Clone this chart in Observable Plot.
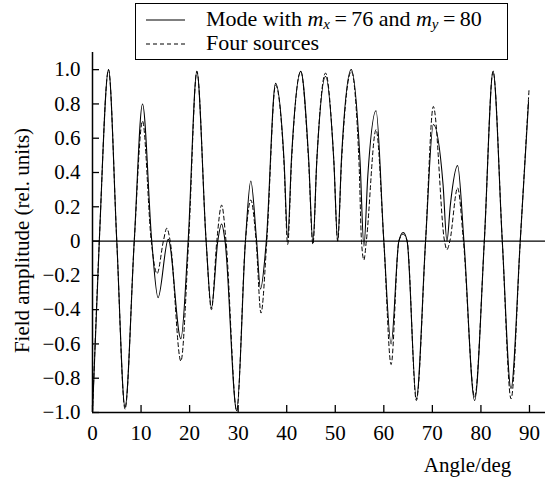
<!DOCTYPE html>
<html>
<head>
<meta charset="utf-8">
<script src="https://cdn.jsdelivr.net/npm/d3@7"></script>
<script src="https://cdn.jsdelivr.net/npm/@observablehq/plot@0.6"></script>
<style>
  html, body { margin: 0; padding: 0; background: #fff; }
  #wrap { position: relative; width: 545px; height: 477px; font-family: "Liberation Serif", "DejaVu Serif", serif; }
  #legend { position: absolute; left: 135px; top: 3px; width: 371px; height: 55px; border: 1.5px solid #000; background: #fff; }
  .row { position: absolute; left: 0; height: 22px; font-size: 22px; line-height: 22px; white-space: nowrap; color: #000; }
  .row > svg { position: absolute; left: 9px; top: 0; }
  .row > .txt { position: absolute; left: 70px; top: 0; }
  .eq { margin: 0 0.2em; }
  sub { font-size: 68%; vertical-align: -0.18em; line-height: 0; }
</style>
</head>
<body>
<div id="wrap">
  <div id="chart"></div>
  <div id="legend"></div>
</div>
<script>
// ---- data ----
const modeAngle = [0, 1.4, 3.3, 5.0, 6.7, 8.6, 10.3, 12.2, 13.5, 15.6, 18.2, 19.7, 21.5, 23.4, 24.5, 25.8, 26.6, 27.3, 29.7, 31.5, 32.6, 33.8, 34.6, 35.8, 37.7, 39.45, 40.2, 41.0, 42.9, 44.5, 45.4, 46.2, 48.0, 49.7, 50.5, 51.3, 53.3, 55.1, 55.9, 56.7, 58.4, 60.0, 61.5, 63.1, 64.0, 64.8, 66.7, 68.6, 70.2, 72.2, 73.0, 73.7, 75.2, 76.5, 78.7, 80.7, 82.5, 84.4, 86.2, 88.1, 89.8];
const modeValue = [-1.0, 0, 1.0, 0, -0.97, 0, 0.80, 0, -0.33, 0.01, -0.57, 0, 0.99, 0, -0.39, 0, 0.10, 0, -0.99, 0, 0.35, 0, -0.28, 0, 0.92, 0.47, 0.02, 0.49, 0.99, 0.49, -0.01, 0.47, 0.96, 0.47, 0.0, 0.49, 1.0, 0.47, -0.03, 0.38, 0.76, 0, -0.60, 0, 0.05, 0, -0.92, 0, 0.68, 0.33, 0.0, 0.21, 0.44, 0, -0.93, 0, 0.99, 0, -0.86, 0, 0.81];

const srcAngle = [0, 1.4, 3.3, 5.0, 6.7, 8.6, 10.3, 12.1, 13.3, 14.6, 15.3, 16.0, 18.2, 19.8, 21.5, 23.4, 24.5, 25.6, 26.6, 27.5, 29.7, 31.5, 32.6, 33.7, 34.7, 35.9, 37.7, 39.45, 40.2, 41.0, 42.9, 44.5, 45.4, 46.2, 48.0, 49.7, 50.5, 51.3, 53.3, 54.9, 55.4, 55.9, 56.4, 58.4, 60.0, 61.5, 63.1, 64.0, 64.8, 66.7, 68.6, 70.2, 72.5, 73.0, 73.6, 75.2, 76.4, 78.7, 80.7, 82.5, 84.4, 86.2, 88.1, 89.9];
const srcValue = [-1.0, 0, 1.0, 0, -0.98, 0, 0.70, 0, -0.19, 0, 0.075, 0, -0.70, 0, 0.99, 0, -0.40, 0, 0.21, 0, -0.99, 0, 0.24, 0, -0.42, 0, 0.91, 0.45, -0.02, 0.47, 0.99, 0.47, -0.02, 0.47, 0.98, 0.47, 0.0, 0.47, 0.99, 0.45, 0, -0.11, 0, 0.65, 0, -0.72, 0, 0.04, 0, -0.93, 0, 0.785, 0, -0.05, 0, 0.31, 0, -0.91, 0, 0.99, 0, -0.92, 0, 0.88];

const xTicks = [0, 10, 20, 30, 40, 50, 60, 70, 80, 90];
const yTicks = [-1, -0.8, -0.6, -0.4, -0.2, 0, 0.2, 0.4, 0.6, 0.8, 1.0];
const yTickLabels = ["−1.0", "−0.8", "−0.6", "−0.4", "−0.2", "0", "0.2", "0.4", "0.6", "0.8", "1.0"];
const xLabel = "Angle/deg";
const yLabel = "Field amplitude (rel. units)";

// ---- build tables ----
const modeData = modeAngle.map((a, i) => ({angle: a, value: modeValue[i]}));
const srcData = srcAngle.map((a, i) => ({angle: a, value: srcValue[i]}));

const W = 545, H = 477, mL = 92, mR = 0, mT = 52, mB = 65;
const plotW = W - mL - mR, plotH = H - mT - mB;

const chart = Plot.plot({
  width: W, height: H,
  marginLeft: mL, marginRight: mR, marginTop: mT, marginBottom: mB,
  x: {domain: [0, 93.3]},
  y: {domain: [-1, 1.1]},
  style: {fontFamily: "'Liberation Serif', serif", fontSize: "21px", color: "#000", background: "#fff"},
  marks: [
    Plot.ruleY([0], {stroke: "#000", strokeWidth: 1.2}),
    Plot.line(srcData, {x: "angle", y: "value", curve: "monotone-x", stroke: "#000", strokeWidth: 1, strokeDasharray: "4,3"}),
    Plot.line(modeData, {x: "angle", y: "value", curve: "monotone-x", stroke: "#000", strokeWidth: 1.1}),
    // axis lines
    Plot.ruleX([0], {stroke: "#000", strokeWidth: 1.5}),
    Plot.ruleY([-1], {stroke: "#000", strokeWidth: 1.5}),
    // inward ticks
    Plot.tickX(xTicks, {x: d => d, insetTop: plotH - 7, stroke: "#000", strokeWidth: 1.3}),
    Plot.tickY(yTicks, {y: d => d, insetRight: plotW - 7, stroke: "#000", strokeWidth: 1.3}),
    // tick labels
    Plot.axisX({ticks: xTicks, tickSize: 0, tickPadding: 13, tickFormat: d => String(d), label: null}),
    Plot.axisY({ticks: yTicks, tickSize: 0, tickPadding: 12, tickFormat: d => yTickLabels[yTicks.indexOf(d)], label: null}),
    // axis titles
    Plot.text([xLabel], {frameAnchor: "bottom-right", text: d => d, textAnchor: "middle", lineAnchor: "middle", dx: -78, dy: 53, fontSize: 21}),
    Plot.text([yLabel], {frameAnchor: "left", text: d => d, rotate: -90, textAnchor: "middle", lineAnchor: "middle", dx: -70, dy: 8, fontSize: 21})
  ]
});
document.getElementById("chart").appendChild(chart);

// ---- legend ----
const legendItems = [
  {dash: null, html: 'Mode with <i>m</i><sub><i>x</i></sub><span class="eq">=</span>76 and <i>m</i><sub><i>y</i></sub><span class="eq">=</span>80'},
  {dash: "4,3", html: 'Four sources'}
];
const legend = d3.select("#legend");
legendItems.forEach((item, i) => {
  const row = legend.append("div").attr("class", "row").style("top", (4 + i * 24) + "px").style("width", "100%");
  const svg = row.append("svg").attr("width", 42).attr("height", 22);
  svg.append("line").attr("x1", 1).attr("x2", 40).attr("y1", 12).attr("y2", 12)
    .attr("stroke", "#000").attr("stroke-width", 1.2).attr("stroke-dasharray", item.dash);
  row.append("span").attr("class", "txt").html(item.html);
});
</script>
</body>
</html>
